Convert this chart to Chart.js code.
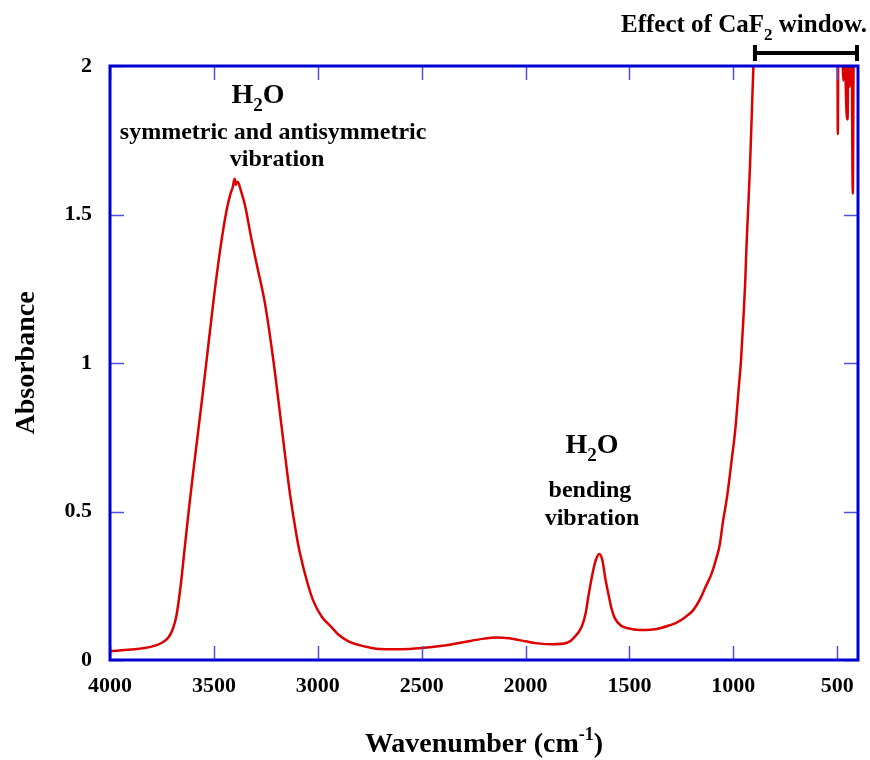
<!DOCTYPE html>
<html>
<head>
<meta charset="utf-8">
<script src="https://cdn.jsdelivr.net/npm/chart.js@4"></script>
<style>
  body { margin: 0; background: #fff; }
</style>
</head>
<body>
<canvas id="spectrum" width="870" height="760"></canvas>
<script>
// IR spectrum of water
const wavenumbers = [
  4000, 3900, 3800, 3750, 3720, 3700, 3680, 3660, 3640, 3620, 3600, 3580, 3560, 3535,
  3500, 3470, 3440, 3420, 3410, 3400, 3395, 3385, 3370, 3350, 3320, 3290, 3254, 3214,
  3174, 3134, 3100, 3086, 3050, 3022, 2980, 2940, 2900, 2850, 2800, 2750, 2700, 2600,
  2500, 2400, 2300, 2200, 2140, 2080, 2000, 1940, 1870, 1800, 1770, 1730, 1710, 1698,
  1674, 1660, 1645, 1630, 1615, 1602, 1585, 1570, 1540, 1513, 1450, 1400, 1353, 1310,
  1273, 1230, 1193, 1160, 1129, 1105, 1084, 1065, 1049, 1030, 1008, 990, 976, 963,
  952, 943, 936, 928, 920, 912, 904, 895, 880,
  700, 520, 500, 497, 494, 480, 470, 465, 458, 450, 447, 440, 432, 425, 420, 410, 400
];
const absorbance = [
  0.030, 0.035, 0.045, 0.058, 0.075, 0.10, 0.15, 0.25, 0.38, 0.51, 0.63, 0.745, 0.86, 1.01,
  1.22, 1.38, 1.51, 1.57, 1.59, 1.62, 1.60, 1.61, 1.58, 1.53, 1.42, 1.32, 1.20, 1.01,
  0.785, 0.56, 0.41, 0.36, 0.26, 0.20, 0.145, 0.115, 0.085, 0.062, 0.050, 0.042, 0.037, 0.036,
  0.040, 0.048, 0.060, 0.072, 0.076, 0.073, 0.063, 0.056, 0.053, 0.058, 0.073, 0.112, 0.16, 0.213,
  0.303, 0.34, 0.357, 0.335, 0.27, 0.225, 0.17, 0.14, 0.115, 0.108, 0.101, 0.102, 0.107, 0.116,
  0.126, 0.145, 0.168, 0.205, 0.253, 0.29, 0.337, 0.39, 0.47, 0.55, 0.673, 0.78, 0.899, 1.01,
  1.145, 1.27, 1.404, 1.53, 1.66, 1.82, 1.987, 2.15, 2.5,
  2.6, 2.6, 2.3, 1.77, 2.3, 2.2, 1.95, 2.2, 1.9, 1.82, 2.1, 1.93, 2.2, 1.57, 2.1, 2.0, 2.2
];
const xTicks = [4000, 3500, 3000, 2500, 2000, 1500, 1000, 500];
const yTicks = [0, 0.5, 1, 1.5, 2];

const SERIF = '"Liberation Serif", "Times New Roman", serif';
const FRAME = 'rgb(0,0,210)';
const TICK = 'rgb(80,80,225)';

// draw a run of text pieces (for sub/superscripts), aligned at x
function drawRich(ctx, parts, x, y, align) {
  let total = 0;
  parts.forEach(p => {
    ctx.font = `bold ${p.size}px ${SERIF}`;
    p.w = ctx.measureText(p.t).width;
    total += p.w;
  });
  let cx = align === 'center' ? x - total / 2 : align === 'right' ? x - total : x;
  ctx.textAlign = 'left';
  ctx.textBaseline = 'alphabetic';
  parts.forEach(p => {
    ctx.font = `bold ${p.size}px ${SERIF}`;
    ctx.fillText(p.t, cx, y + (p.dy || 0));
    cx += p.w;
  });
}

const decorations = {
  id: 'decorations',
  afterDraw(chart) {
    const { ctx, chartArea: a, scales: { x, y } } = chart;
    const px = v => x.getPixelForValue(v);
    const py = v => y.getPixelForValue(v);
    ctx.save();

    // inside tick marks on all four sides
    ctx.strokeStyle = TICK;
    ctx.lineWidth = 1.5;
    ctx.beginPath();
    xTicks.forEach(v => {
      const p = Math.round(px(v)) + 0.5;
      ctx.moveTo(p, a.bottom); ctx.lineTo(p, a.bottom - 14);
      ctx.moveTo(p, a.top); ctx.lineTo(p, a.top + 14);
    });
    yTicks.forEach(v => {
      const p = Math.round(py(v)) + 0.5;
      ctx.moveTo(a.left, p); ctx.lineTo(a.left + 14, p);
      ctx.moveTo(a.right, p); ctx.lineTo(a.right - 14, p);
    });
    ctx.stroke();

    // frame
    ctx.strokeStyle = FRAME;
    ctx.lineWidth = 3;
    ctx.strokeRect(a.left, a.top, a.right - a.left, a.bottom - a.top);

    ctx.fillStyle = '#000';

    // axis titles
    drawRich(ctx, [
      { t: 'Wavenumber (cm', size: 28 },
      { t: '-1', size: 18, dy: -12 },
      { t: ')', size: 28 }
    ], (a.left + a.right) / 2, 752, 'center');

    ctx.save();
    ctx.translate(34, (a.top + a.bottom) / 2);
    ctx.rotate(-Math.PI / 2);
    drawRich(ctx, [{ t: 'Absorbance', size: 28 }], 0, 0, 'center');
    ctx.restore();

    // peak labels
    const h2o = [
      { t: 'H', size: 28 },
      { t: '2', size: 19, dy: 8 },
      { t: 'O', size: 28 }
    ];
    drawRich(ctx, h2o, px(3288), py(1.875), 'center');
    drawRich(ctx, [{ t: 'symmetric and antisymmetric', size: 24 }], px(3215), py(1.754), 'center');
    drawRich(ctx, [{ t: 'vibration', size: 24 }], px(3196), py(1.663), 'center');

    drawRich(ctx, h2o, px(1680), py(0.697), 'center');
    drawRich(ctx, [{ t: 'bending', size: 24 }], px(1690), py(0.549), 'center');
    drawRich(ctx, [{ t: 'vibration', size: 24 }], px(1680), py(0.455), 'center');

    // CaF2 window range
    drawRich(ctx, [
      { t: 'Effect of CaF', size: 25 },
      { t: '2', size: 17, dy: 8 },
      { t: ' window.', size: 25 }
    ], 867, 32, 'right');

    const x0 = px(896), x1 = px(405), yb = py(2.044);
    ctx.strokeStyle = '#000';
    ctx.lineWidth = 4;
    ctx.beginPath();
    ctx.moveTo(x0, yb); ctx.lineTo(x1, yb);
    ctx.moveTo(x0, yb - 8); ctx.lineTo(x0, yb + 8);
    ctx.moveTo(x1, yb - 8); ctx.lineTo(x1, yb + 8);
    ctx.stroke();

    ctx.restore();
  }
};

new Chart(document.getElementById('spectrum'), {
  type: 'line',
  data: {
    datasets: [{
      data: wavenumbers.map((w, i) => ({ x: w, y: absorbance[i] })),
      borderColor: 'rgb(220,0,0)',
      borderWidth: 2.5,
      pointRadius: 0,
      cubicInterpolationMode: 'monotone',
      fill: false
    }]
  },
  options: {
    responsive: false,
    animation: false,
    devicePixelRatio: 1,
    layout: { padding: { top: 66, right: 12, left: 0, bottom: 0 } },
    plugins: {
      legend: { display: false },
      tooltip: { enabled: false }
    },
    scales: {
      x: {
        type: 'linear',
        reverse: true,
        min: 400,
        max: 4000,
        grid: { display: false },
        border: { display: false },
        afterBuildTicks: scale => { scale.ticks = xTicks.map(v => ({ value: v })); },
        afterFit: scale => { scale.height = 100; },
        ticks: {
          padding: 5,
          color: '#000',
          font: { family: SERIF, size: 22, weight: 'bold' },
          callback: v => String(v)
        }
      },
      y: {
        min: 0,
        max: 2,
        grid: { display: false },
        border: { display: false },
        afterBuildTicks: scale => { scale.ticks = yTicks.map(v => ({ value: v })); },
        afterFit: scale => { scale.width = 110; },
        ticks: {
          padding: 10,
          color: '#000',
          font: { family: SERIF, size: 22, weight: 'bold' },
          callback: v => String(v)
        }
      }
    }
  },
  plugins: [decorations]
});
</script>
</body>
</html>
